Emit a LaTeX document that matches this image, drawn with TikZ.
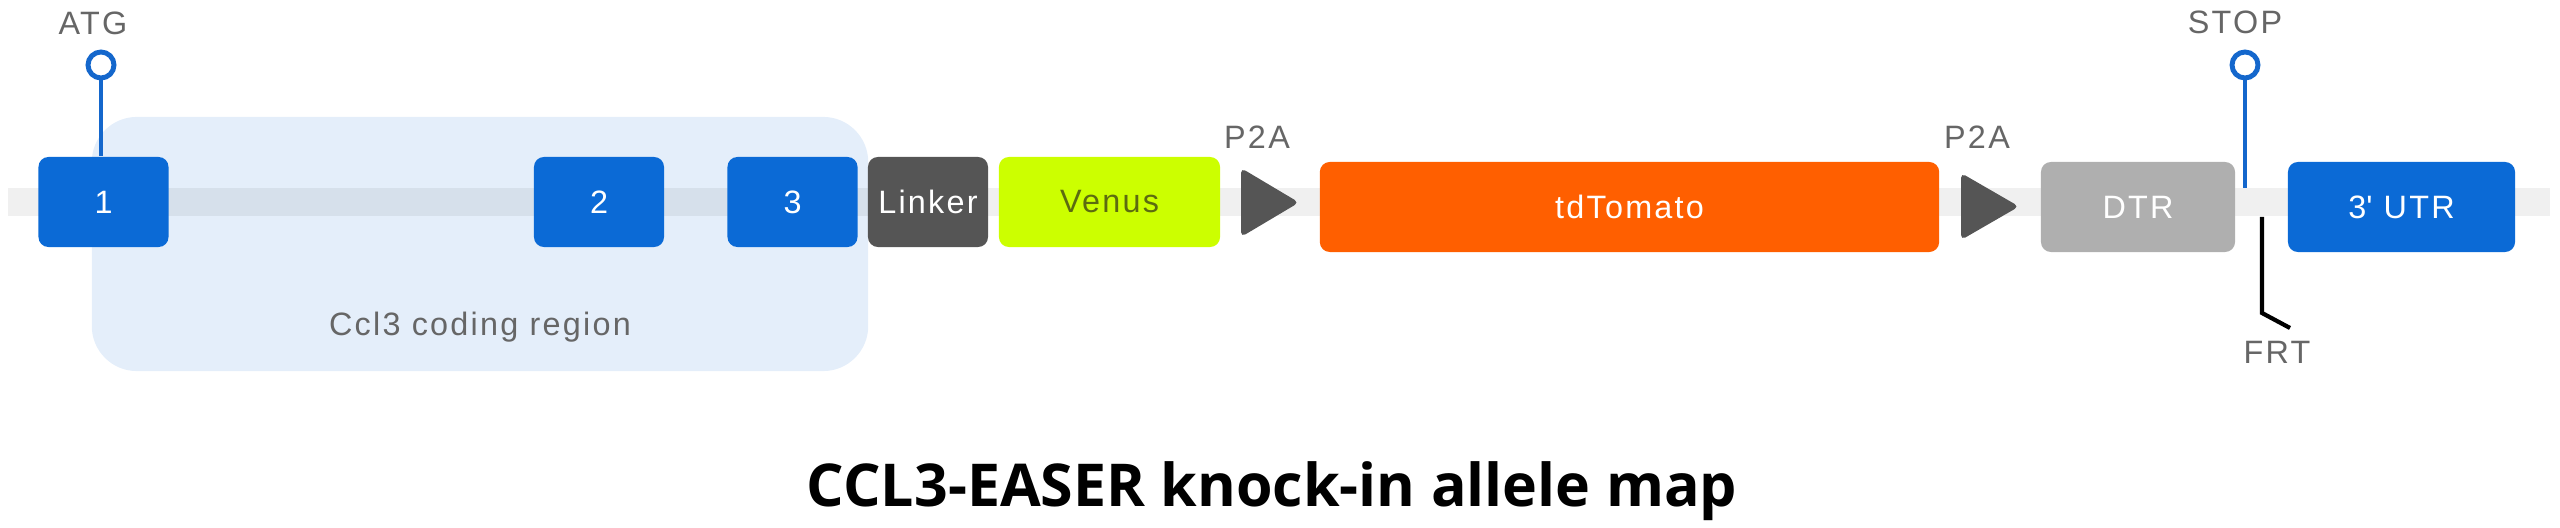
\documentclass[tikz,border=0pt]{standalone}
\usepackage{fontspec}
\setmainfont{Liberation Sans}[LetterSpace=7]
\newfontfamily\titlefont{Open Sans}
\usetikzlibrary{positioning,calc}
\definecolor{exonblue}{HTML}{0B6AD6}
\definecolor{regionblue}{HTML}{E4EEFA}
\definecolor{pinblue}{HTML}{1467CC}
\definecolor{linkergrey}{HTML}{555555}
\definecolor{venuslime}{HTML}{CCFF00}
\definecolor{venustext}{HTML}{5C6B10}
\definecolor{tomatoorange}{HTML}{FF5F00}
\definecolor{dtrgrey}{HTML}{AFAFAF}
\definecolor{labelgrey}{HTML}{666666}

\begin{document}
\begin{tikzpicture}[x=0.01cm, y=-0.01cm,
    every node/.style={font=\fontsize{9.2}{11}\selectfont},
    block/.style={rounded corners=0.1cm, minimum height=0.9cm, inner sep=0pt, text=white},
    exon/.style={block, fill=exonblue, minimum width=1.3cm},
    tag/.style={text=labelgrey, inner sep=0pt},
    pin/.style={circle, draw=pinblue, line width=1.4pt, minimum size=0.26cm, inner sep=0pt, fill=white},
    p2a/.style={fill=linkergrey, rounded corners=0.05cm}]
    \useasboundingbox (0,0) rectangle (2560,528);

    \node[fill=regionblue, rounded corners=0.45cm, minimum width=7.76cm, minimum height=2.54cm] (region) at (480,244) {};
    \node[tag] (regionlabel) at (480,327) {Ccl3 coding region};
    \fill[black, opacity=0.06] (8,188) rectangle (2550,216);

    \node[exon] (e1) at (103.5,202) {1};
    \node[exon] (e2) at (599,202) {2};
    \node[exon] (e3) at (792.5,202) {3};
    \node[block, fill=linkergrey, minimum width=1.2cm] (linker) at (928,202) {Linker};
    \node[block, fill=venuslime, text=venustext, minimum width=2.21cm] (venus) at (1109.5,202) {Venus};
    \node[block, fill=tomatoorange, minimum width=6.19cm] (tomato) at (1629.5,207) {tdTomato};
    \node[block, fill=dtrgrey, minimum width=1.94cm] (dtr) at (2138,207) {DTR};
    \node[exon, minimum width=2.27cm] (utr) at (2401.5,207) {3\textquotesingle\ UTR};

    \fill[p2a] (1241,168) -- (1299,202.5) -- (1241,237) -- cycle;
    \fill[p2a] (1961,173) -- (2019,206.5) -- (1961,240) -- cycle;
    \node[tag] (p2aa) at (1257,137) {P2A};
    \node[tag] (p2ab) at (1977,137) {P2A};

    \node[pin] (atg) at (101,65) {};
    \node[tag] (atglabel) at (93,23) {ATG};
    \draw[pinblue, line width=1.2pt] (atg.south) -- (atg.south |- e1.north);

    \node[pin] (stop) at (2245,65) {};
    \node[tag] (stoplabel) at (2235,22) {STOP};
    \coordinate (stopend) at (2245,188);
    \draw[pinblue, line width=1.2pt] (stop.south) -- (stopend);

    \coordinate (frt) at (2262,217);
    \node[tag] (frtlabel) at (2277,352) {FRT};
    \draw[line width=1.2pt] (frt) -- ++(0,96) -- ++(28,15);

    \node[font=\titlefont\bfseries\fontsize{16.8}{20}\selectfont, anchor=base, inner sep=0pt] (title) at (1272,507) {CCL3-EASER knock-in allele map};
\end{tikzpicture}
\end{document}
